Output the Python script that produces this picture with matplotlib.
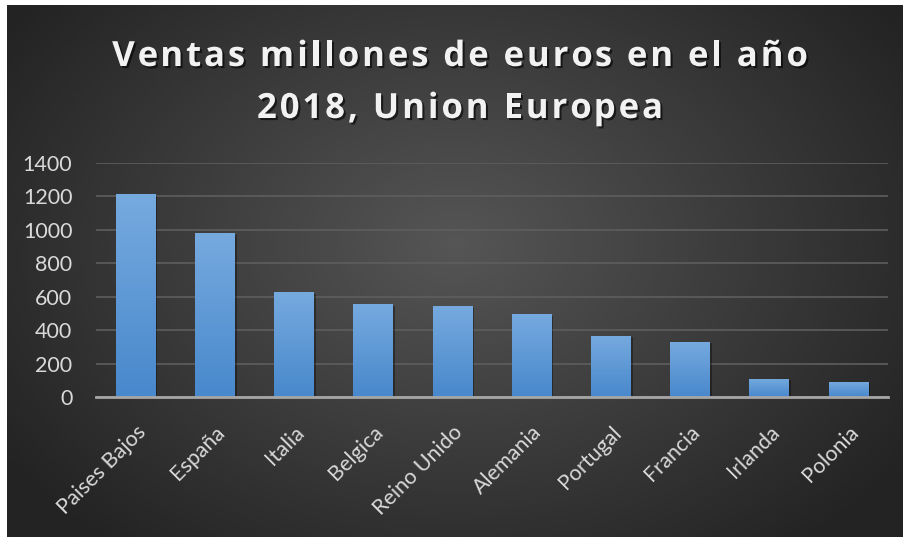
"""Ventas por pais 2018 - bar chart on dark radial background (Agg)."""
import numpy as np
import matplotlib
matplotlib.use("Agg")
import matplotlib.pyplot as plt
import matplotlib.patheffects as pe
from matplotlib.colors import LinearSegmentedColormap

paises = ["Paises Bajos", "España", "Italia", "Belgica", "Reino Unido",
          "Alemania", "Portugal", "Francia", "Irlanda", "Polonia"]
ventas = [1212, 981, 628, 556, 546, 497, 368, 332, 109, 92]
yticks = [0, 200, 400, 600, 800, 1000, 1200, 1400]
titulo = ["Ventas millones de euros en el año", "2018, Union Europea"]

W, H = 904, 537
fig = plt.figure(figsize=(W / 100, H / 100), dpi=100)
fig.patch.set_facecolor("white")

# dark radial background of the chart area
bg = fig.add_axes([7 / W, 0, 1 - 7 / W, 1 - 5 / H])
bg.set_axis_off()
yy, xx = np.mgrid[0:1:300j, 0:1:500j]
r = np.sqrt(((xx - 0.5) / 0.62) ** 2 + ((yy - 0.45) / 0.75) ** 2)
shade = np.clip(0.335 - 0.2 * r, 0.14, 0.34)
bg.imshow(shade, cmap="gray", vmin=0, vmax=1, aspect="auto",
          extent=[0, 1, 0, 1], interpolation="bicubic")
bg.set_xlim(0, 1)
bg.set_ylim(0, 1)

ax = fig.add_axes([96 / W, (H - 397.3) / H, 792 / W, 234.3 / H])
ax.patch.set_alpha(0)
x = np.arange(len(paises))
bars = ax.bar(x, ventas, width=0.5, color="#5b9bd5", zorder=3,
              path_effects=[pe.withSimplePatchShadow(offset=(1.5, -1), shadow_rgbFace="black", alpha=0.35)])

grad = LinearSegmentedColormap.from_list("bar", ["#4888cc", "#76aadf"])
for b in bars:
    im = ax.imshow(np.linspace(0, 1, 100).reshape(-1, 1), cmap=grad, aspect="auto",
                   origin="lower", extent=[b.get_x(), b.get_x() + b.get_width(), 0, b.get_height()],
                   zorder=4)
    im.set_clip_path(b)

ax.set_xlim(-0.5, len(paises) - 0.5)
ax.set_ylim(0, 1400)
ax.set_yticks(yticks)
ax.set_yticklabels([str(v) for v in yticks])
ax.yaxis.grid(True, color="#5e5e5e", linewidth=1.2, zorder=0)
ax.set_axisbelow(True)
for s in ["top", "right", "left"]:
    ax.spines[s].set_visible(False)
ax.spines["bottom"].set_color("#a6a6a6")
ax.spines["bottom"].set_linewidth(2)
ax.spines["bottom"].set_zorder(5)
ax.tick_params(axis="y", length=0, pad=17, labelsize=15.5, labelcolor="#d9d9d9")
ax.tick_params(axis="x", length=0, pad=18, labelsize=15.5, labelcolor="#d9d9d9")
ax.set_xticks(x)
ax.set_xticklabels(paises, rotation=45, ha="right", va="top", rotation_mode="anchor")
for t in ax.get_xticklabels() + ax.get_yticklabels():
    t.set_fontfamily("Lato")

# title with wide letter spacing, drawn char by char
renderer = fig.canvas.get_renderer()
tprops = dict(fontsize=25, fontweight="bold", fontfamily="Open Sans", color="#f2f2f2",
              va="baseline", ha="left",
              path_effects=[pe.withSimplePatchShadow(offset=(1.5, -1.5), shadow_rgbFace="black", alpha=0.6)])
spacing = 2.9  # px
baselines = [66, 118]


def width_px(s):
    if not s:
        return 0.0
    t = fig.text(0, 0, s.replace(" ", "\u00a0") + "|", fontsize=25, fontweight="bold", fontfamily="Open Sans")
    w = t.get_window_extent(renderer).width
    t.remove()
    bar = fig.text(0, 0, "|", fontsize=25, fontweight="bold", fontfamily="Open Sans")
    wb = bar.get_window_extent(renderer).width
    bar.remove()
    return w - wb


for line, base in zip(titulo, baselines):
    total = width_px(line) + spacing * (len(line) - 1)
    x0 = W / 2 + 8 - total / 2
    for i, ch in enumerate(line):
        if ch == " ":
            continue
        xp = x0 + width_px(line[:i]) + spacing * i
        fig.text(xp / W, 1 - base / H, ch, **tprops)

fig.savefig("out.png", dpi=100, facecolor=fig.get_facecolor())
print("wrote out.png")
